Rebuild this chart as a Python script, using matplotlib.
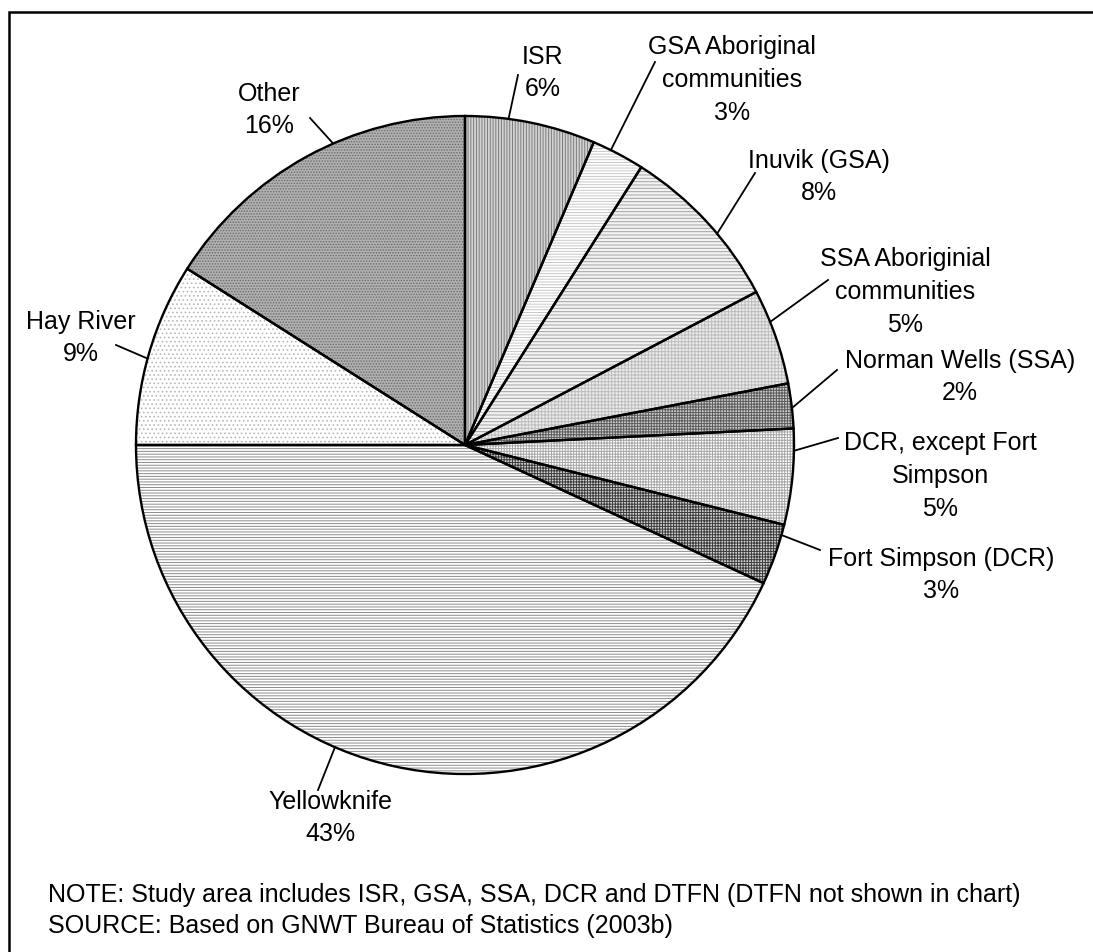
"""
Population share by community, NWT study area (pie with patterned wedges).
"""
import numpy as np
import matplotlib
matplotlib.use("Agg")
import matplotlib.pyplot as plt
from matplotlib.patches import Wedge, Rectangle

plt.rcParams["font.family"] = ["Liberation Sans", "DejaVu Sans"]
plt.rcParams["hatch.linewidth"] = 0.7

# wedge order: clockwise from 12 o'clock
labels = [
    "ISR",
    "GSA Aboriginal\ncommunities",
    "Inuvik (GSA)",
    "SSA Aboriginial\ncommunities",
    "Norman Wells (SSA)",
    "DCR, except Fort\nSimpson",
    "Fort Simpson (DCR)",
    "Yellowknife",
    "Hay River",
    "Other",
]
shares = [6.4, 2.6, 8.3, 4.7, 2.2, 4.7, 3.0, 43.1, 9.0, 16.0]

# fill styles: base colour, hatch colour, hatch pattern
face = ["#d2d2d2", "#ffffff", "#f2f2f2", "#ececec", "#cacaca",
        "#ffffff", "#d0d0d0", "#ffffff", "#ffffff", "#b0b0b0"]
hcol = ["#7c7c7c", "#c8c8c8", "#a4a4a4", "#bcbcbc", "#5c5c5c",
        "#a8a8a8", "#3c3c3c", "#8c8c8c", "#b8b8b8", "#6c6c6c"]
hatch = ["|" * 6, "-" * 6, "-" * 5, "+" * 5, "+" * 6,
         "+" * 6, "+" * 6, "-" * 6, "." * 4, "." * 6]

# label block centres (px, from top-left) and leader ends
lab_xy = [(543, 73), (732, 80), (819, 177), (905, 292), (960, 377),
          (940, 476), (941, 575), (330, 818), (81, 338), (269, 110)]
lead_end = [(518, 75), (655, 62), (755, 173), (828, 280), (837, 370),
            (838, 438), (820, 550), (318, 790), (116, 345), (310, 118)]
# where along each wedge (0 = clockwise start) the leader touches the rim
lead_at = [0.33, 0.35, 0.59, 0.34, 0.55, 0.23, 0.17, 0.57, 0.47, 0.59]

note = ("NOTE: Study area includes ISR, GSA, SSA, DCR and DTFN "
        "(DTFN not shown in chart)")
source = "SOURCE: Based on GNWT Bureau of Statistics (2003b)"

W, H = 1093, 952
fig = plt.figure(figsize=(W / 100, H / 100), dpi=100)
ax = fig.add_axes([0, 0, 1, 1])

cx, cy, r = 465, H - 445, 329

wedges, _ = ax.pie(shares, startangle=90, counterclock=False,
                   center=(cx, cy), radius=r, frame=True,
                   wedgeprops=dict(linewidth=0))
ax.set_xlim(0, W)
ax.set_ylim(0, H)
ax.set_aspect("auto")
ax.axis("off")

for i, w in enumerate(wedges):
    w.set_facecolor(face[i])
    ax.add_patch(Wedge(w.center, w.r, w.theta1, w.theta2, facecolor="none",
                       edgecolor=hcol[i], linewidth=0, hatch=hatch[i],
                       zorder=2))
    ax.add_patch(Wedge(w.center, w.r, w.theta1, w.theta2, fill=False,
                       edgecolor="black", linewidth=1.7, zorder=3))

for i, w in enumerate(wedges):
    ang = np.deg2rad(w.theta2 - lead_at[i] * (w.theta2 - w.theta1))
    px, py = cx + r * np.cos(ang), cy + r * np.sin(ang)
    ex, ey = lead_end[i]
    ax.plot([px, ex], [py, H - ey], color="black", lw=1.3, zorder=4)
    tx, ty = lab_xy[i]
    ax.text(tx, H - ty, f"{labels[i]}\n{shares[i]:.0f}%", ha="center",
            va="center", fontsize=18, linespacing=1.45, zorder=5)

ax.text(48, H - 895, note, ha="left", va="center", fontsize=18)
ax.text(48, H - 926, source, ha="left", va="center", fontsize=18)

# chart frame (right and bottom run off the canvas)
ax.add_patch(Rectangle((8.5, -20), W + 40, H - 11.5 + 20, fill=False,
                       edgecolor="black", linewidth=1.8, zorder=6,
                       clip_on=False))

fig.savefig("out.png", dpi=100)
